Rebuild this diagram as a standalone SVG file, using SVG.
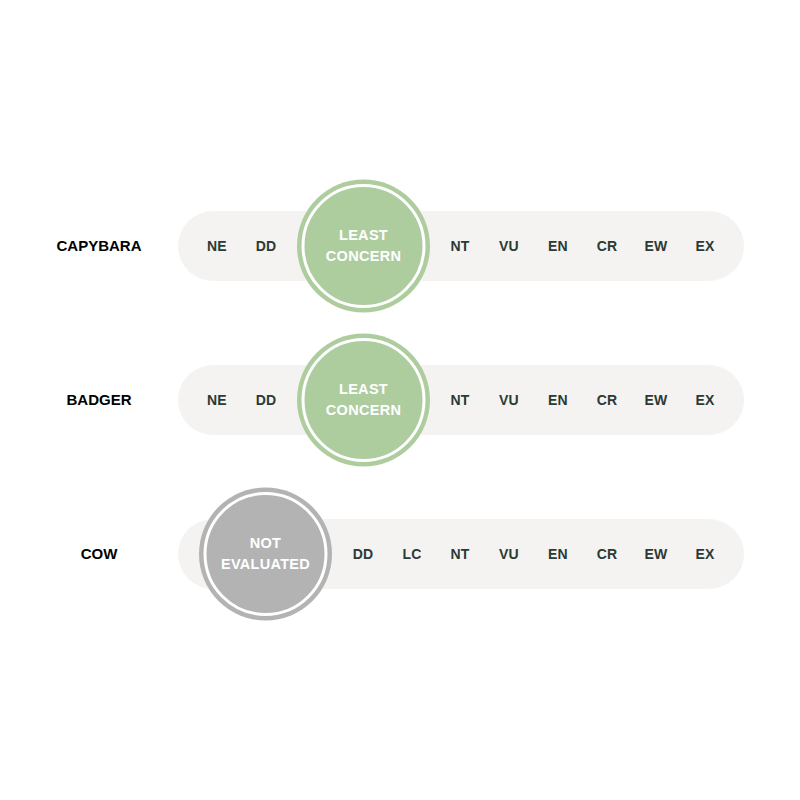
<svg xmlns="http://www.w3.org/2000/svg" width="800" height="800" viewBox="0 0 800 800">
<style>
.bar{fill:#f4f3f1}
.cat{font-family:"Liberation Sans",Arial,sans-serif;font-weight:bold;font-size:14px;fill:#2b3a35;text-anchor:middle;letter-spacing:0.2px}
.name{font-family:"Liberation Sans",Arial,sans-serif;font-weight:bold;font-size:15px;fill:#000;text-anchor:middle}
.ct{font-family:"Liberation Sans",Arial,sans-serif;font-weight:bold;font-size:14.5px;fill:#fff;text-anchor:middle;letter-spacing:0.3px}
.lc{fill:#aecd9f}
.ne{fill:#b3b3b3}
.ring{fill:none;stroke:#fff;stroke-width:3}
</style>
<rect width="800" height="800" fill="#fff"/>
<g id="capybara">
<text class="name" x="99" y="251">CAPYBARA</text>
<rect class="bar" x="178" y="211" width="566" height="70" rx="35"/>
<text class="cat" x="217" y="251">NE</text>
<text class="cat" x="266" y="251">DD</text>
<circle class="lc" cx="363.5" cy="246" r="66.5"/>
<circle class="ring" cx="363.5" cy="246" r="60.5"/>
<text class="ct" x="363.5" y="240">LEAST</text>
<text class="ct" x="363.5" y="261">CONCERN</text>
<text class="cat" x="460" y="251">NT</text>
<text class="cat" x="509" y="251">VU</text>
<text class="cat" x="558" y="251">EN</text>
<text class="cat" x="607" y="251">CR</text>
<text class="cat" x="656" y="251">EW</text>
<text class="cat" x="705" y="251">EX</text>
</g>
<g id="badger">
<text class="name" x="99" y="405">BADGER</text>
<rect class="bar" x="178" y="365" width="566" height="70" rx="35"/>
<text class="cat" x="217" y="405">NE</text>
<text class="cat" x="266" y="405">DD</text>
<circle class="lc" cx="363.5" cy="400" r="66.5"/>
<circle class="ring" cx="363.5" cy="400" r="60.5"/>
<text class="ct" x="363.5" y="394">LEAST</text>
<text class="ct" x="363.5" y="415">CONCERN</text>
<text class="cat" x="460" y="405">NT</text>
<text class="cat" x="509" y="405">VU</text>
<text class="cat" x="558" y="405">EN</text>
<text class="cat" x="607" y="405">CR</text>
<text class="cat" x="656" y="405">EW</text>
<text class="cat" x="705" y="405">EX</text>
</g>
<g id="cow">
<text class="name" x="99" y="559">COW</text>
<rect class="bar" x="178" y="519" width="566" height="70" rx="35"/>
<circle class="ne" cx="265.5" cy="554" r="66.5"/>
<circle class="ring" cx="265.5" cy="554" r="60.5"/>
<text class="ct" x="265.5" y="548">NOT</text>
<text class="ct" x="265.5" y="569">EVALUATED</text>
<text class="cat" x="363" y="559">DD</text>
<text class="cat" x="412" y="559">LC</text>
<text class="cat" x="460" y="559">NT</text>
<text class="cat" x="509" y="559">VU</text>
<text class="cat" x="558" y="559">EN</text>
<text class="cat" x="607" y="559">CR</text>
<text class="cat" x="656" y="559">EW</text>
<text class="cat" x="705" y="559">EX</text>
</g>
<g id="connectors"></g>
</svg>
